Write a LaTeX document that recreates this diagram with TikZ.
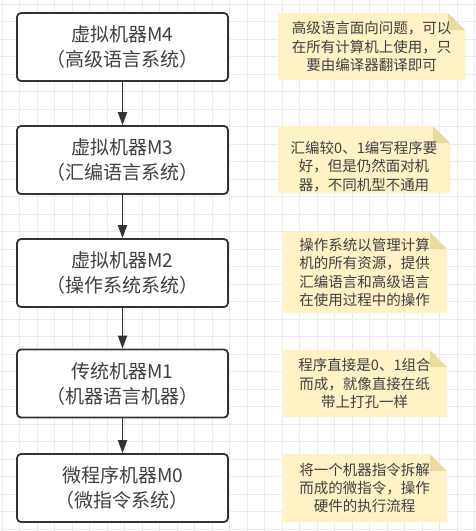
\documentclass[tikz,border=0pt]{standalone}
\usepackage{fontspec}
\setmainfont{Noto Sans CJK SC}
\usetikzlibrary{arrows.meta}

\definecolor{inkgray}{HTML}{333333}
\definecolor{textgray}{HTML}{404040}
\definecolor{gridgray}{HTML}{EBEBEB}
\definecolor{notefill}{HTML}{FFF2C4}
\definecolor{foldfill}{HTML}{E9DAA2}

\tikzset{
  machine/.style={draw=inkgray, line width=1.8pt, fill=white, rounded corners=4pt,
    minimum width=211pt, minimum height=68pt, inner sep=0pt, align=center,
    text=textgray, font=\fontsize{19}{25}\selectfont},
  flow/.style={draw=inkgray, line width=1.8pt, -{Triangle[length=13pt,width=9pt]}},
  notetext/.style={align=center, text=textgray, font=\fontsize{14.5}{18.3}\selectfont, inner sep=0pt},
  notebox/.style={notetext, path picture={
    \fill[notefill] (path picture bounding box.south west) -- (path picture bounding box.north west)
      -- ([xshift=-17pt]path picture bounding box.north east)
      -- ([yshift=-17pt]path picture bounding box.north east)
      -- (path picture bounding box.south east) -- cycle;
    \fill[foldfill] ([xshift=-17pt]path picture bounding box.north east)
      -- ([yshift=-17pt]path picture bounding box.north east)
      -- ([xshift=-17pt,yshift=-17pt]path picture bounding box.north east) -- cycle;}},
  gridline/.style={draw=gridgray, line width=1pt}
}

\begin{document}
\begin{tikzpicture}[x=1pt, y=-1pt]
  \useasboundingbox[fill=white] (0,0) rectangle (476,531);
  % background grid
  \foreach \gx in {0,...,27} \draw[gridline] ({2+17.5*\gx},0) -- ({2+17.5*\gx},531);
  \foreach \gy in {0,...,30} \draw[gridline] (0,{4.2+17.5*\gy}) -- (476,{4.2+17.5*\gy});

  % machine levels
  \node[machine] (m4) at (122.5,47) {虚拟机器M4\\（高级语言系统）};
  \node[machine] (m3) at (122.5,160) {虚拟机器M3\\（汇编语言系统）};
  \node[machine] (m2) at (122.5,273) {虚拟机器M2\\（操作系统系统）};
  \node[machine] (m1) at (122.5,383.5) {传统机器M1\\（机器语言机器）};
  \node[machine] (m0) at (122.5,488) {微程序机器M0\\（微指令系统）};

  \draw[flow] (m4) -- (m3);
  \draw[flow] (m3) -- (m2);
  \draw[flow] (m2) -- (m1);
  \draw[flow] (m1) -- (m0);

  % notes
  \node[notebox, minimum width=187pt, minimum height=67pt] (n4) at (371.5,46.5)
    {高级语言面向问题，可以\\在所有计算机上使用，只\\要由编译器翻译即可};
  \node[notebox, minimum width=172pt, minimum height=67pt,
    label={[notetext, yshift=-7pt]center:汇编较0、1编写程序要\\好，但是仍然面对机\\器，不同机型不通用}] (n3) at (364,159.5) {};
  \node[notebox, minimum width=165pt, minimum height=81pt] (n2) at (364.5,272.5)
    {操作系统以管理计算\\机的所有资源，提供\\汇编语言和高级语言\\在使用过程中的操作};
  \node[notebox, minimum width=165pt, minimum height=67pt] (n1) at (364.5,383.5)
    {程序直接是0、1组合\\而成，就像直接在纸\\带上打孔一样};
  \node[notebox, minimum width=165pt, minimum height=68pt] (n0) at (364.5,488)
    {将一个机器指令拆解\\而成的微指令，操作\\硬件的执行流程};
\end{tikzpicture}
\end{document}
